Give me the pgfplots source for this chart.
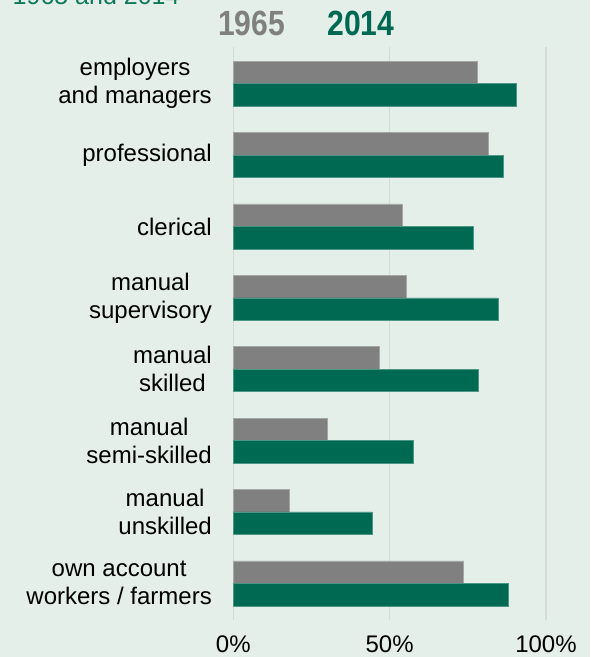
\documentclass[border=0pt]{standalone}
\usepackage{pgfplots}
\pgfplotsset{compat=1.18}
\usepackage{fontspec}
\setmainfont{Liberation Sans}
\usepackage{graphicx}
\definecolor{bgc}{RGB}{229,239,234}
\definecolor{gbar}{RGB}{128,128,128}
\definecolor{tbar}{RGB}{0,105,82}
\definecolor{gridc}{RGB}{212,218,215}
\definecolor{tit}{RGB}{16,120,90}
\begin{document}
\begin{tikzpicture}[x=1pt,y=1pt]
\fill[bgc] (0,0) rectangle (590,657);
\begin{axis}[
  at={(233.3pt,37pt)}, anchor=south west,
  scale only axis, width=312.7pt, height=573pt,
  xmin=0, xmax=100, ymin=-0.514, ymax=7.514, y dir=reverse,
  axis line style={draw=none},
  major tick length=0pt, tick style={draw=none},
  xmajorgrids, grid style={draw=gridc, line width=1.2pt},
  clip=false,
  xtick={0,50,100}, xticklabels={0\%,50\%,100\%},
  x tick label style={font=\fontsize{24}{28}\selectfont, anchor=base, inner sep=0pt, yshift=-32pt},
  ytick={0,...,7},
  yticklabels={{employers\\and managers},{professional},{clerical},{manual\\supervisory},{manual\\skilled},{manual\\semi-skilled},{manual\\unskilled},{own account\\workers / farmers}},
  y tick label style={font=\fontsize{24}{28}\selectfont, align=center, anchor=east, inner sep=0pt, xshift=-21.3pt},
]
\addplot[xbar, bar width=22.5pt, bar shift=11.25pt, fill=gbar, draw=gbar!70!white, line width=0.6pt]
  coordinates {(78,0) (81.7,1) (53.9,2) (55.2,3) (46.8,4) (30,5) (18,6) (73.7,7)};
\addplot[xbar, bar width=22.5pt, bar shift=-11.25pt, fill=tbar, draw=tbar!70!white, line width=0.6pt]
  coordinates {(90.6,0) (86.5,1) (76.7,2) (84.6,3) (78.5,4) (57.6,5) (44.4,6) (88.1,7)};
\end{axis}
\node[anchor=base, text=gbar, inner sep=0pt] at (251.5,621) {\scalebox{0.86}[1]{\fontsize{35}{35}\selectfont\bfseries 1965}};
\node[anchor=base, text=tbar, inner sep=0pt] at (361,621) {\scalebox{0.86}[1]{\fontsize{35}{35}\selectfont\bfseries 2014}};
\node[anchor=base west, text=tit, inner sep=0pt] at (12.5,652.5) {\fontsize{25}{30}\selectfont 1965 and 2014};
\pgfresetboundingbox
\useasboundingbox (0,0) rectangle (590,657);
\end{tikzpicture}
\end{document}
